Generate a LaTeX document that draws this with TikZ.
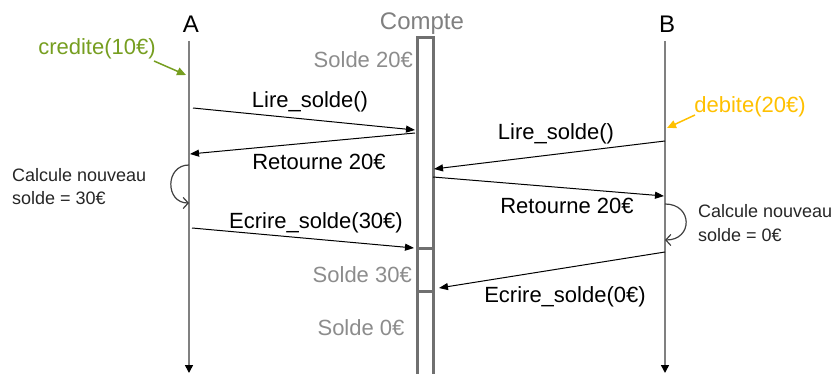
\documentclass[tikz,border=0pt]{standalone}
\usepackage{fontspec}
\setmainfont{Liberation Sans}
\usetikzlibrary{arrows.meta}

\definecolor{lifegray}{RGB}{128,128,128}
\definecolor{boxgray}{RGB}{112,112,112}
\definecolor{textgray}{RGB}{140,140,140}
\definecolor{credgreen}{RGB}{118,158,32}
\definecolor{debgold}{RGB}{255,192,0}

\begin{document}
\begin{tikzpicture}[x=1pt,y=-1pt,
  txt/.style={inner sep=0pt, font=\fontsize{22}{26}\selectfont},
  actor/.style={inner sep=0pt, font=\fontsize{24}{28}\selectfont},
  grayt/.style={inner sep=0pt, font=\fontsize{22}{26}\selectfont, text=textgray},
  note/.style={inner sep=0pt, font=\fontsize{18}{21}\selectfont, text=black!85},
  lifeline/.style={draw=lifegray, line width=1.5pt, -{Triangle[length=8pt,width=8pt,color=black]}},
  msg/.style={draw=black, line width=1pt, -{Triangle[length=9pt,width=7pt]}},
  selfloop/.style={draw=black!75, line width=1.2pt, -{Straight Barb[length=5pt,width=11pt]}},
  tag/.style={line width=1.5pt, -{Triangle[length=9pt,width=8pt]}},
  accbox/.style={draw=boxgray, line width=3pt}
]
\useasboundingbox (0,0) rectangle (836,374);
\clip (0,0) rectangle (836,374);

% actors and their lifelines
\node[actor, anchor=base] (A) at (191,33) {A};
\node[actor, anchor=base] (B) at (667,33) {B};
\node[actor, anchor=base, text=lifegray] (C) at (422,30) {Compte};

\coordinate (Atop) at (189,41);
\coordinate (Abot) at (189,373);
\coordinate (Btop) at (665,41);
\coordinate (Bbot) at (665,373);
\draw[lifeline] (Atop) -- (Abot);
\draw[lifeline] (Btop) -- (Bbot);

% account activation box with its state dividers
\coordinate (boxNW) at (417,38);
\coordinate (boxSE) at (433,390);
\draw[accbox] (boxNW) rectangle (boxSE);
\coordinate (d1w) at (417,249);
\coordinate (d1e) at (433,249);
\coordinate (d2w) at (417,292);
\coordinate (d2e) at (433,292);
\draw[accbox] (d1w) -- (d1e);
\draw[accbox] (d2w) -- (d2e);

% account states
\node[grayt, anchor=base east] (s20) at (413,68) {Solde 20€};
\node[grayt, anchor=base east] (s30) at (412,283) {Solde 30€};
\node[grayt, anchor=base] (s0) at (361,335) {Solde 0€};

% operations requested
\node[txt, anchor=base, text=credgreen] (cred) at (97,55) {credite(10€)};
\coordinate (credTip) at (186,75);
\draw[tag, draw=credgreen, fill=credgreen] (154,61) coordinate (credFrom) -- (credTip);

\node[txt, anchor=base, text=debgold] (deb) at (750,113) {debite(20€)};
\coordinate (debTip) at (667,128);
\draw[tag, draw=debgold, fill=debgold] (695,115) coordinate (debFrom) -- (debTip);

% messages of A
\coordinate (a1) at (193,108);  \coordinate (k1) at (415,130);
\coordinate (k2) at (415,133);  \coordinate (a2) at (190,154);
\coordinate (a3) at (192,228);  \coordinate (k3) at (414,248);
\draw[msg] (a1) -- (k1);
\draw[msg] (k2) -- (a2);
\draw[msg] (a3) -- (k3);
\node[txt, anchor=base] (m1) at (310,108) {Lire\_solde()};
\node[txt, anchor=base] (m2) at (319,170) {Retourne 20€};
\node[txt, anchor=base] (m3) at (316,229) {Ecrire\_solde(30€)};

% messages of B
\coordinate (b1) at (665,141);  \coordinate (k4) at (434,169);
\coordinate (k5) at (433,177);  \coordinate (b2) at (664,196);
\coordinate (b3) at (665,252);  \coordinate (k6) at (439,288);
\draw[msg] (b1) -- (k4);
\draw[msg] (k5) -- (b2);
\draw[msg] (b3) -- (k6);
\node[txt, anchor=base] (m4) at (556,140) {Lire\_solde()};
\node[txt, anchor=base] (m5) at (567,214) {Retourne 20€};
\node[txt, anchor=base] (m6) at (565,302) {Ecrire\_solde(0€)};

% local computations
\coordinate (la) at (189,165);  \coordinate (lb) at (189,203);
\draw[selfloop] (la) .. controls (165,165) and (165,203) .. (lb);
\coordinate (ra) at (665,204);  \coordinate (rb) at (665,240);
\draw[selfloop] (ra) .. controls (693,204) and (693,240) .. (rb);

\node[note, anchor=base west] (n1) at (12,182) {Calcule nouveau};
\node[note, anchor=base west] (n2) at (12,205) {solde = 30€};
\node[note, anchor=base west] (n3) at (698,218) {Calcule nouveau};
\node[note, anchor=base west] (n4) at (698,242) {solde = 0€};
\end{tikzpicture}
\end{document}
